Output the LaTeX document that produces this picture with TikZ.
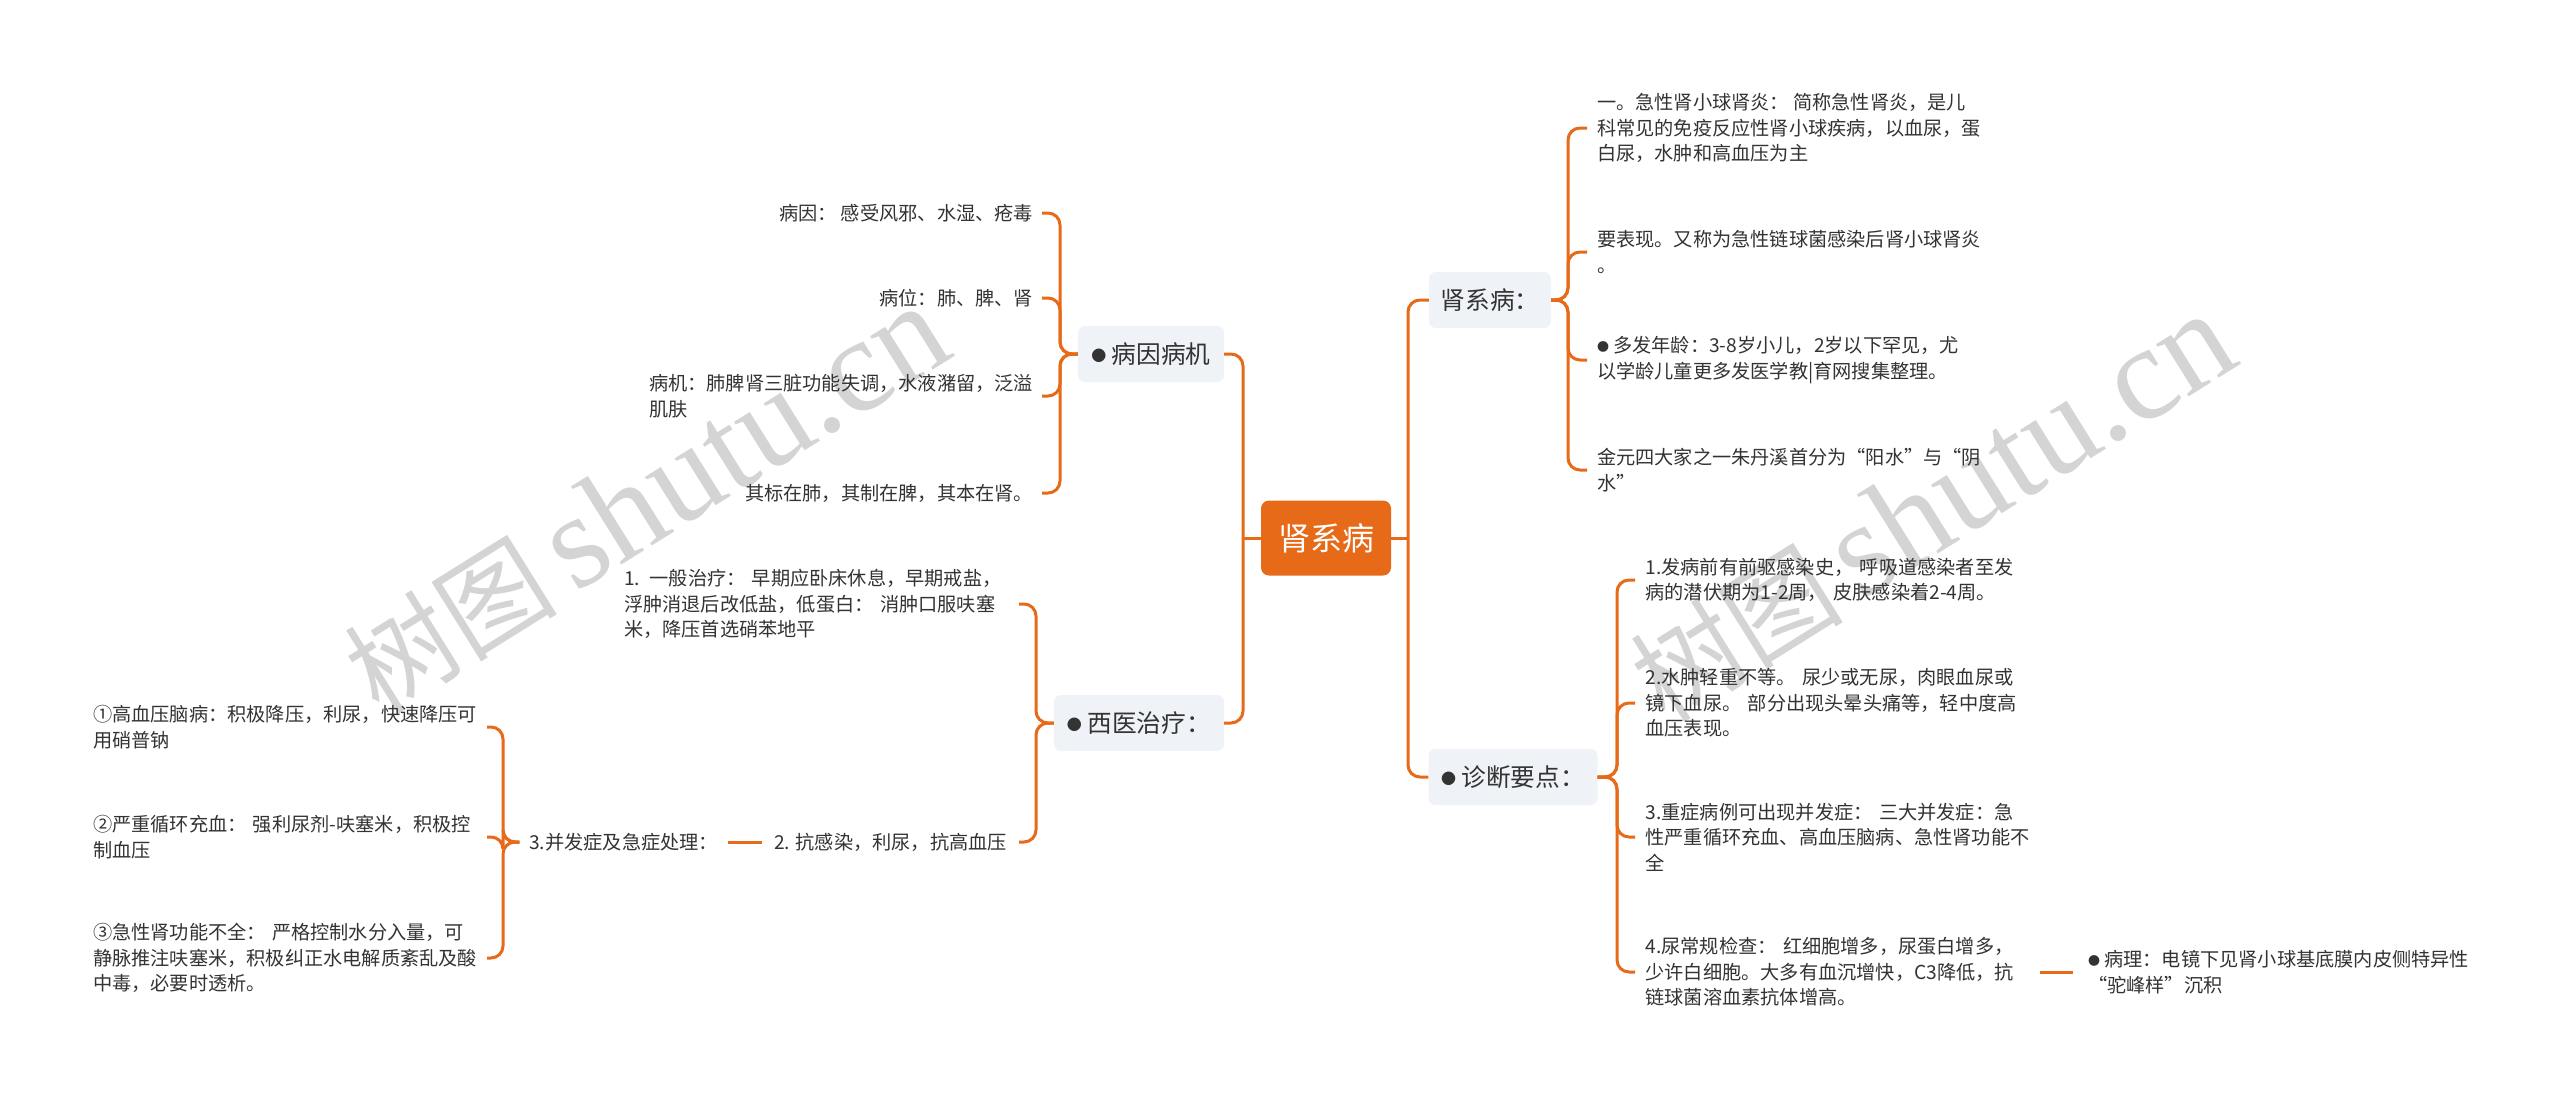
\documentclass[tikz,border=0pt]{standalone}
\usepackage{fontspec}
\setmainfont{Noto Sans CJK SC}
\newfontfamily\wmlatin{Liberation Serif}
\usetikzlibrary{calc}
\definecolor{org}{RGB}{230,106,24}
\definecolor{txt}{RGB}{51,51,51}
\definecolor{nodefill}{RGB}{239,242,246}
\definecolor{wmc}{RGB}{212,212,212}
\newcommand\bltA{\raisebox{1.5pt}{\fontsize{15}{15}\selectfont ●}}
\newcommand\bltB{\raisebox{1pt}{\fontsize{12}{12}\selectfont ●}}
\tikzset{
  conn/.style={draw=org, line width=3pt, rounded corners=12pt},
  leaf/.style={inner xsep=0pt, inner ysep=2pt, text=txt, font=\fontsize{19.2}{25.5}\selectfont, align=left},
  leafR/.style={leaf, anchor=east, outer xsep=9pt, align=right},
  topic/.style={fill=nodefill, rounded corners=7pt, text=txt, font=\fontsize{24.7}{30}\selectfont, minimum height=56pt, inner xsep=0pt},
  rootnode/.style={fill=org, text=white, rounded corners=8pt, font=\fontsize{32}{36}\selectfont, minimum width=130pt, minimum height=75pt},
  wmark/.style={rotate=32, text=wmc, inner sep=0pt}
}
\begin{document}
\begin{tikzpicture}[x=1pt,y=-1pt]
\useasboundingbox (0,0) rectangle (2560,1101);
\fill[white] (0,0) rectangle (2560,1101);

% watermarks
\node[wmark] (wm1) at (646,500) {\fontsize{107}{107}\selectfont 树图\,{\wmlatin\fontsize{134}{134}\selectfont shutu.cn}};
\node[wmark] (wm2) at (1932,508) {\fontsize{107}{107}\selectfont 树图\,{\wmlatin\fontsize{134}{134}\selectfont shutu.cn}};

% root and main topics
\node[rootnode] (root) at (1326,538) {肾系病};
\node[topic, minimum width=146pt] (bybj) at (1151,354) {\bltA\ 病因病机};
\node[topic, minimum width=170pt] (xyzl) at (1139,723) {\bltA\ 西医治疗：};
\node[topic, minimum width=122pt] (sxb) at (1490,300) {肾系病：};
\node[topic, minimum width=169pt] (zdyd) at (1513,777) {\bltA\ 诊断要点：};

\coordinate (tl) at (1243,538);
\coordinate (tr) at (1408,538);
\draw[conn] (root.west) -- (tl);
\draw[conn] (bybj.east) -- (bybj.east -| tl) -- (xyzl.east -| tl) -- (xyzl.east);
\draw[conn] (root.east) -- (tr);
\draw[conn] (sxb.west) -- (sxb.west -| tr) -- (zdyd.west -| tr) -- (zdyd.west);

% 病因病机 group
\coordinate (j1) at (1060,354);
\node[leafR] (a1) at (1042,213) {病因： 感受风邪、水湿、疮毒};
\node[leafR] (a2) at (1042,298) {病位：肺、脾、肾};
\node[leafR, text width=384pt, align=left] (a3) at (1042,396) {病机：肺脾肾三脏功能失调，水液潴留，泛溢\\肌肤};
\node[leafR] (a4) at (1042,493) {其标在肺，其制在脾，其本在肾。};
\foreach \c in {a1,a2,a3,a4}
  \draw[conn] (\c.east) -- (\c.east -| j1) -- (j1) -- (bybj.west);

% 西医治疗 group
\coordinate (j2) at (1036,723);
\node[leaf, anchor=east, outer xsep=5pt, text width=390pt] (b1) at (1019,604) {1. 一般治疗： 早期应卧床休息，早期戒盐，\\浮肿消退后改低盐，低蛋白： 消肿口服呋塞\\米，降压首选硝苯地平};
\node[leaf, anchor=east, outer xsep=12pt] (b2) at (1019,842) {2. 抗感染，利尿，抗高血压};
\node[leaf, anchor=east, outer xsep=10pt] (b3) at ($(b2.west)+(-34,0)$) {3.并发症及急症处理：};
\foreach \c in {b1,b2}
  \draw[conn] (\c.east) -- (\c.east -| j2) -- (j2) -- (xyzl.west);
\draw[conn] (b3.east) -- (b2.west);

% 并发症 group
\coordinate (j3) at (503,842);
\node[leaf, anchor=east, outer xsep=4pt, text width=390pt] (c1) at (487,727) {①高血压脑病：积极降压，利尿，快速降压可\\用硝普钠};
\node[leaf, anchor=east, outer xsep=4pt, text width=390pt] (c2) at (487,837) {②严重循环充血： 强利尿剂-呋塞米，积极控\\制血压};
\node[leaf, anchor=east, outer xsep=4pt, text width=390pt] (c3) at (487,958) {③急性肾功能不全： 严格控制水分入量，可\\静脉推注呋塞米，积极纠正水电解质紊乱及酸\\中毒，必要时透析。};
\foreach \c in {c1,c2,c3}
  \draw[conn] (\c.east) -- (\c.east -| j3) -- (j3) -- (b3.west);

% 肾系病 group
\coordinate (j4) at (1568,300);
\node[leaf, anchor=west, outer xsep=10pt] (d1) at (1587,128) {一。急性肾小球肾炎： 简称急性肾炎，是儿\\科常见的免疫反应性肾小球疾病，以血尿，蛋\\白尿，水肿和高血压为主};
\node[leaf, anchor=west, outer xsep=10pt] (d2) at (1587,252) {要表现。又称为急性链球菌感染后肾小球肾炎\\。};
\node[leaf, anchor=west, outer xsep=10pt] (d3) at (1587,360) {\bltB\ 多发年龄：3-8岁小儿，2岁以下罕见，尤\\以学龄儿童更多发医学教|育网搜集整理。};
\node[leaf, anchor=west, outer xsep=10pt] (d4) at (1587,470) {金元四大家之一朱丹溪首分为“阳水”与“阴\\水”};
\foreach \c in {d1,d2,d3,d4}
  \draw[conn] (\c.west) -- (\c.west -| j4) -- (j4) -- (sxb.east);

% 诊断要点 group
\coordinate (j5) at (1617,777);
\node[leaf, anchor=west, outer xsep=10.5pt, text width=384pt] (e1) at (1635,580) {1.发病前有前驱感染史， 呼吸道感染者至发\\病的潜伏期为1-2周， 皮肤感染着2-4周。};
\node[leaf, anchor=west, outer xsep=10.5pt, text width=384pt] (e2) at (1635,703) {2.水肿轻重不等。 尿少或无尿，肉眼血尿或\\镜下血尿。 部分出现头晕头痛等，轻中度高\\血压表现。};
\node[leaf, anchor=west, outer xsep=10.5pt, text width=384pt] (e3) at (1635,837) {3.重症病例可出现并发症： 三大并发症：急\\性严重循环充血、高血压脑病、急性肾功能不\\全};
\node[leaf, anchor=west, outer xsep=10.5pt, text width=384pt] (e4) at (1635,972) {4.尿常规检查： 红细胞增多，尿蛋白增多，\\少许白细胞。大多有血沉增快，C3降低，抗\\链球菌溶血素抗体增高。};
\foreach \c in {e1,e2,e3,e4}
  \draw[conn] (\c.west) -- (\c.west -| j5) -- (j5) -- (zdyd.east);

% 病理
\node[leaf, anchor=west, outer xsep=15pt] (f1) at (2073,972) {\bltB\ 病理：电镜下见肾小球基底膜内皮侧特异性\\“驼峰样”沉积};
\draw[conn] (e4.east) -- (f1.west);
\end{tikzpicture}
\end{document}
